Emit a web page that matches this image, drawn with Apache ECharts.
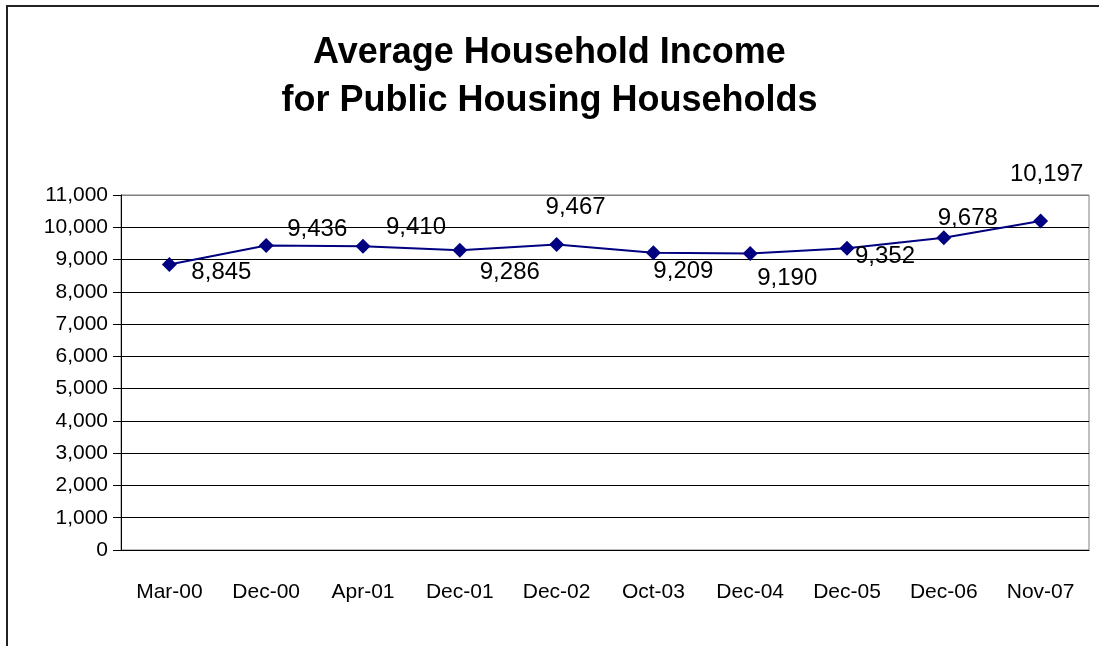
<!DOCTYPE html>
<html>
<head>
	<meta charset="utf-8">
	<title>Average Household Income</title>
	<script src="https://cdn.jsdelivr.net/npm/echarts@6/dist/echarts.min.js"></script>
	<style>
		body { margin: 0; background: #fff; }
		#frame { position: absolute; left: 6px; top: 5px; width: 1200px; height: 800px; border: 2px solid #222; }
		#main { position: absolute; left: 0; top: 0; width: 1099px; height: 646px; }
	</style>
</head>
<body>
	<div id="frame"></div>
	<div id="main"></div>
	<script type="text/javascript">
		// 数据
		var categories = ['Mar-00', 'Dec-00', 'Apr-01', 'Dec-01', 'Dec-02', 'Oct-03', 'Dec-04', 'Dec-05', 'Dec-06', 'Nov-07'];
		var incomes = [8845, 9436, 9410, 9286, 9467, 9209, 9190, 9352, 9678, 10197];

		// label offsets from each point (px), placed like the original
		var labelOffsets = [[52, 8], [51, -16], [53, -19], [50, 22], [19, -37], [30, 19], [37, 25], [38, 8], [24, -19], [6, -47]];

		var font = "'Liberation Sans', Arial, sans-serif";

		var myChart = echarts.init(document.getElementById('main'));

		var seriesData = incomes.map(function (v, i) {
			return {
				value: v,
				label: { offset: labelOffsets[i] }
			};
		});

		// top line is the gray plot border
		var gridColors = [];
		for (var i = 0; i < 11; i++) gridColors.push('#000');
		gridColors.push('#808080');

		var option = {
			animation: false,
			backgroundColor: 'transparent',
			title: {
				text: 'Average Household Income\nfor Public Housing Households',
				left: 'center',
				top: 24,
				textStyle: {
					fontFamily: font,
					fontWeight: 'bold',
					fontSize: 36,
					lineHeight: 48,
					color: '#000'
				}
			},
			grid: {
				left: 121,
				right: 10,
				top: 195,
				bottom: 96,
				show: true,
				borderColor: '#808080',
				borderWidth: 1
			},
			xAxis: {
				type: 'category',
				data: categories,
				boundaryGap: true,
				axisLine: { lineStyle: { color: '#000', width: 1 } },
				axisTick: { length: 9, lineStyle: { color: '#000' } },
				axisLabel: {
					interval: 0,
					margin: 32,
					fontFamily: font,
					fontSize: 21,
					color: '#000'
				}
			},
			yAxis: {
				type: 'value',
				min: 0,
				max: 11000,
				interval: 1000,
				axisLine: { show: true, lineStyle: { color: '#000', width: 1 } },
				axisTick: { show: true, length: 8, lineStyle: { color: '#000' } },
				splitLine: { lineStyle: { color: gridColors, width: 1 } },
				axisLabel: {
					margin: 13,
					fontFamily: font,
					fontSize: 21,
					color: '#000',
					formatter: function (v) { return v.toLocaleString('en-US'); }
				}
			},
			series: [
				{
					type: 'line',
					data: seriesData,
					symbol: 'diamond',
					symbolSize: 15,
					lineStyle: { color: '#000080', width: 2 },
					itemStyle: { color: '#000080' },
					label: {
						show: true,
						position: 'inside',
						fontFamily: font,
						fontSize: 24,
						color: '#000',
						formatter: function (p) { return p.value.toLocaleString('en-US'); }
					}
				}
			]
		};

		myChart.setOption(option);
	</script>
</body>
</html>
